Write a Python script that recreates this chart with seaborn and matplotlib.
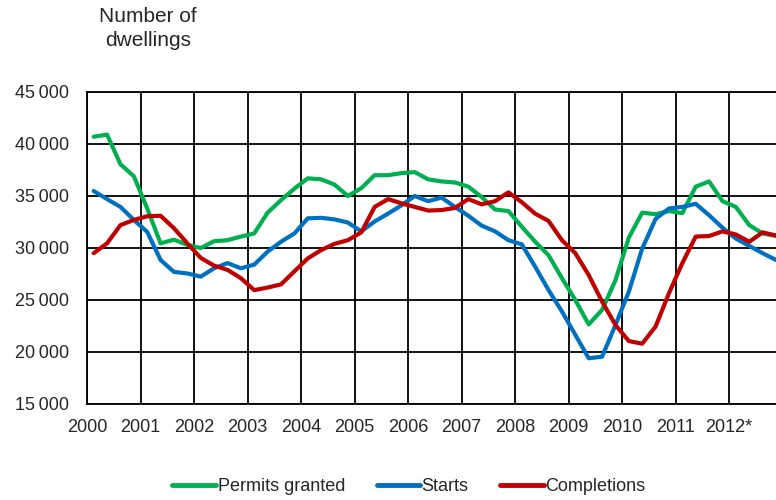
import numpy as np
import pandas as pd
import seaborn as sns
import matplotlib.pyplot as plt

# quarterly periods 2000Q1 .. 2012Q4
quarters = pd.period_range("2000Q1", "2012Q4", freq="Q")

permits = [40700, 40900, 38050, 36900, 33800, 30450, 30800, 30300, 30000, 30650,
           30750, 31100, 31400, 33400, 34600, 35700, 36700, 36600, 36100, 35000,
           35750, 37000, 37000, 37200, 37300, 36600, 36400, 36300, 35900, 34900,
           33700, 33550, 32050, 30600, 29300, 27100, 25000, 22650, 24050, 26900,
           31000, 33400, 33250, 33550, 33350, 35900, 36400, 34500, 33950, 32200,
           31400, 31150]
starts = [35480, 34700, 33950, 32700, 31550, 28850, 27700, 27550, 27250, 28050,
          28550, 28050, 28400, 29650, 30600, 31400, 32850, 32900, 32750, 32450,
          31600, 32550, 33300, 34100, 35000, 34500, 34850, 33950, 33100, 32150,
          31600, 30750, 30350, 28200, 25950, 23900, 21650, 19400, 19550, 22600,
          25800, 29950, 32800, 33800, 33950, 34250, 33150, 31950, 30900, 30200,
          29500, 28850]
completions = [29500, 30450, 32200, 32700, 33050, 33100, 31900, 30450, 29050, 28300,
               27900, 27100, 25950, 26200, 26500, 27750, 29000, 29800, 30400, 30750,
               31500, 33950, 34700, 34300, 33950, 33600, 33650, 33850, 34700, 34200,
               34500, 35350, 34400, 33300, 32600, 30750, 29500, 27400, 24850, 22600,
               21050, 20800, 22450, 25650, 28550, 31100, 31150, 31600, 31300, 30600,
               31500, 31200]

series_names = ["Permits granted", "Starts", "Completions"]
colors = ["#00B050", "#0070C0", "#C00000"]
year_ticks = list(range(2000, 2013))
year_labels = [str(y) for y in year_ticks[:-1]] + ["2012*"]
y_ticks = [15000, 20000, 25000, 30000, 35000, 40000, 45000]

# quarter midpoints as decimal years
xq = quarters.year + (quarters.quarter - 0.5) / 4

df = pd.concat([
    pd.DataFrame({"x": xq, "value": vals, "series": name})
    for name, vals in zip(series_names, [permits, starts, completions])
], ignore_index=True)

sns.set_style("white")
plt.rcParams["font.family"] = ["Liberation Sans", "DejaVu Sans"]

fig = plt.figure(figsize=(7.76, 5.0), dpi=100)
ax = fig.add_axes([87 / 776, 1 - 404 / 500, 1 - 87 / 776, (404 - 92) / 500])

sns.lineplot(df, x="x", y="value", hue="series", hue_order=series_names,
             palette=colors, linewidth=3, ax=ax, legend=False)

ax.set_xlim(2000, xq[-1])
ax.set_ylim(15000, 45000)
ax.set_xticks(year_ticks)
ax.set_xticklabels(year_labels)
ax.set_yticks(y_ticks)
ax.set_yticklabels([f"{v:,}".replace(",", "\u2009") for v in y_ticks])
ax.grid(True, color="black", linewidth=1.3)
ax.tick_params(axis="both", direction="out", length=5, width=1.3, color="black",
               labelsize=13)
ax.tick_params(axis="x", pad=6)
ax.tick_params(axis="y", pad=8)
for side in ["top", "left", "bottom"]:
    ax.spines[side].set_visible(True)
    ax.spines[side].set_color("black")
    ax.spines[side].set_linewidth(1.3)
ax.spines["right"].set_visible(False)
ax.set_xlabel("")
ax.set_ylabel("")

fig.text(148 / 776, 1 - 7 / 500, "Number of\ndwellings", ha="center", va="top",
         fontsize=15, linespacing=1.3)

handles = [plt.Line2D([], [], color=c, linewidth=3.5) for c in colors]
fig.legend(handles, series_names, loc="center", bbox_to_anchor=(0.527, 0.027),
           ncol=3, frameon=False, fontsize=13, handlelength=2.4, handletextpad=0.1,
           columnspacing=1.75)

plt.savefig("out.png", dpi=100)
